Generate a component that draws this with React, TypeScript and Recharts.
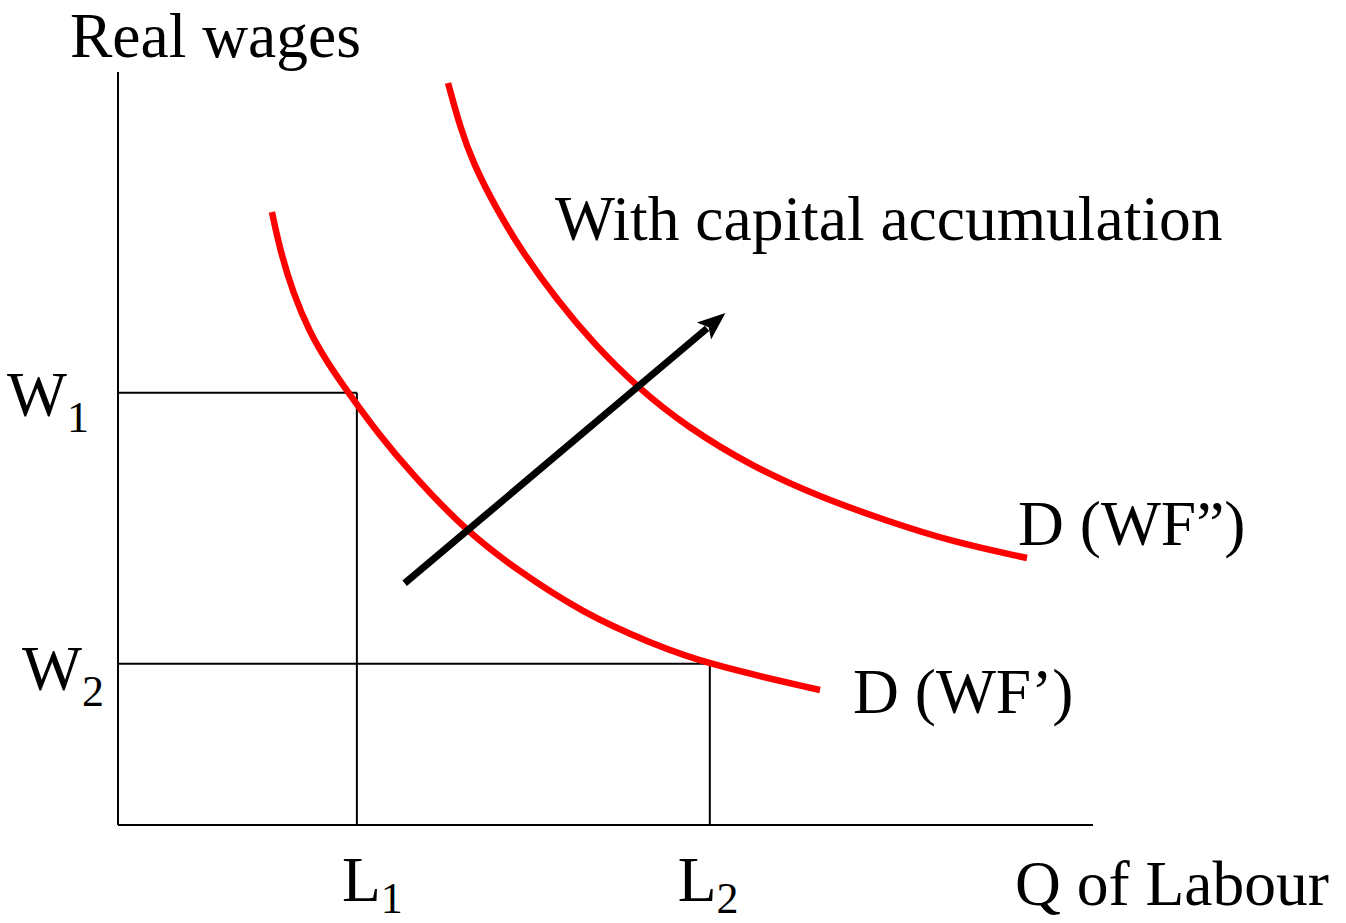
import { LineChart, Line, XAxis, YAxis, ReferenceLine } from "recharts";

// labour demand before capital accumulation, D (WF')
const demandOne = [
  { q: 15.79, w: 81.41 },
  { q: 16.62, w: 76.36 },
  { q: 17.95, w: 70.65 },
  { q: 19.69, w: 65.34 },
  { q: 21.44, w: 61.49 },
  { q: 23.79, w: 57.1 },
  { q: 26.56, w: 52.19 },
  { q: 29.95, w: 46.88 },
  { q: 35.69, w: 39.04 },
  { q: 40.92, w: 33.86 },
  { q: 47.69, w: 28.15 },
  { q: 54.56, w: 24.17 },
  { q: 60.72, w: 21.25 },
  { q: 72.0, w: 17.93 },
];

// labour demand after capital accumulation, D (WF'')
const demandTwo = [
  { q: 33.85, w: 98.54 },
  { q: 35.08, w: 92.7 },
  { q: 36.41, w: 87.92 },
  { q: 38.87, w: 81.67 },
  { q: 41.54, w: 75.96 },
  { q: 45.03, w: 69.72 },
  { q: 48.72, w: 64.01 },
  { q: 53.23, w: 58.17 },
  { q: 58.36, w: 52.86 },
  { q: 65.13, w: 47.54 },
  { q: 72.0, w: 43.56 },
  { q: 78.87, w: 40.37 },
  { q: 85.64, w: 37.58 },
  { q: 93.23, w: 35.46 },
];

const wageTicks = [21.4, 57.4];
const wageNames = ["2", "1"];
const labourTicks = [24.5, 60.7];
const labourNames = ["1", "2"];

const shiftArrow = [
  { q: 29.4, w: 32.1 },
  { q: 62.3, w: 68.0 },
];

const serif = "'Liberation Serif', 'Times New Roman', serif";

const WageTick = (props: any) => {
  const { x, y, payload } = props;
  const i = wageTicks.indexOf(payload.value);
  const left = i === 1 ? x - 103 : x - 88;
  const base = i === 1 ? y + 23 : y + 26;
  return (
    <text x={left} y={base} fontFamily={serif} fontSize={63.5} fill="#000">
      W
      <tspan fontSize={44} dx={0} dy={16}>
        {wageNames[i]}
      </tspan>
    </text>
  );
};

const LabourTick = (props: any) => {
  const { x, y, payload } = props;
  const i = labourTicks.indexOf(payload.value);
  const left = i === 0 ? x - 15 : x - 32;
  return (
    <text x={left} y={y + 68} fontFamily={serif} fontSize={63.5} fill="#000">
      L
      <tspan fontSize={44} dx={0} dy={12}>
        {labourNames[i]}
      </tspan>
    </text>
  );
};

const ArrowShape = (props: any) => {
  const { x1, y1, x2, y2 } = props;
  const ang = Math.atan2(y2 - y1, x2 - x1);
  const len = 28;
  const half = 11;
  const bx = x2 - len * Math.cos(ang);
  const by = y2 - len * Math.sin(ang);
  const px = -Math.sin(ang) * half;
  const py = Math.cos(ang) * half;
  return (
    <g>
      <line x1={x1} y1={y1} x2={bx + 4 * Math.cos(ang)} y2={by + 4 * Math.sin(ang)} stroke="#000" strokeWidth={7} />
      <polygon
        points={`${x2},${y2} ${bx + px},${by + py} ${bx + 6 * Math.cos(ang)},${by + 6 * Math.sin(ang)} ${bx - px},${by - py}`}
        fill="#000"
      />
    </g>
  );
};

export default function App() {
  return (
    <div style={{ position: "absolute", left: 0, top: 0, background: "#fff" }}>
      <LineChart
        width={1346}
        height={923}
        margin={{ top: 72, right: 253, bottom: 97, left: 117 }}
      >
        <XAxis
          type="number"
          dataKey="q"
          domain={[0, 100]}
          ticks={labourTicks}
          height={1}
          tickLine={false}
          axisLine={{ stroke: "#000", strokeWidth: 2 }}
          tick={<LabourTick />}
          allowDataOverflow
        />
        <YAxis
          type="number"
          dataKey="w"
          domain={[0, 100]}
          ticks={wageTicks}
          width={1}
          tickLine={false}
          axisLine={{ stroke: "#000", strokeWidth: 2 }}
          tick={<WageTick />}
          allowDataOverflow
        />
        <ReferenceLine segment={[{ x: 0, y: wageTicks[1] }, { x: labourTicks[0], y: wageTicks[1] }]} stroke="#000" strokeWidth={2} />
        <ReferenceLine segment={[{ x: labourTicks[0], y: 0 }, { x: labourTicks[0], y: wageTicks[1] }]} stroke="#000" strokeWidth={2} />
        <ReferenceLine segment={[{ x: 0, y: wageTicks[0] }, { x: labourTicks[1], y: wageTicks[0] }]} stroke="#000" strokeWidth={2} />
        <ReferenceLine segment={[{ x: labourTicks[1], y: 0 }, { x: labourTicks[1], y: wageTicks[0] }]} stroke="#000" strokeWidth={2} />
        <Line data={demandOne} dataKey="w" type="basis" stroke="#ff0000" strokeWidth={6.5} dot={false} isAnimationActive={false} />
        <Line data={demandTwo} dataKey="w" type="basis" stroke="#ff0000" strokeWidth={6.5} dot={false} isAnimationActive={false} />
        <ReferenceLine
          segment={[{ x: shiftArrow[0].q, y: shiftArrow[0].w }, { x: shiftArrow[1].q, y: shiftArrow[1].w }]}
          shape={<ArrowShape />}
        />
        <text x={70} y={57} fontFamily={serif} fontSize={63.5} fill="#000">Real wages</text>
        <text x={555} y={240} fontFamily={serif} fontSize={63.5} fill="#000">With capital accumulation</text>
        <text x={1018} y={545} fontFamily={serif} fontSize={63.5} fill="#000">D (WF”)</text>
        <text x={853} y={713} fontFamily={serif} fontSize={63.5} fill="#000">D (WF’)</text>
        <text x={1015} y={905} fontFamily={serif} fontSize={63.5} fill="#000">Q of Labour</text>
      </LineChart>
    </div>
  );
}
